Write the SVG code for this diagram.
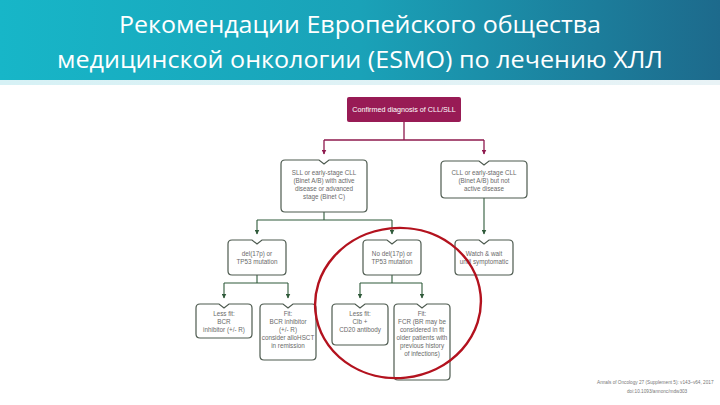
<svg xmlns="http://www.w3.org/2000/svg" width="720" height="405" viewBox="0 0 720 405">
<defs>
<linearGradient id="hdr" x1="0" y1="0" x2="1" y2="0">
<stop offset="0" stop-color="#17b6c8"/>
<stop offset="0.5" stop-color="#1aa2b8"/>
<stop offset="1" stop-color="#1d6a8c"/>
</linearGradient>
<linearGradient id="strip" x1="0" y1="0" x2="1" y2="0">
<stop offset="0" stop-color="#d6f1f5"/>
<stop offset="1" stop-color="#e9f3f6"/>
</linearGradient>
<marker id="am" viewBox="0 0 10 10" refX="9" refY="5" markerWidth="5" markerHeight="5" orient="auto" markerUnits="userSpaceOnUse">
<path d="M0,0 L10,5 L0,10 Z" fill="#8e1a4e"/>
</marker>
<marker id="ag" viewBox="0 0 10 10" refX="9" refY="5" markerWidth="5" markerHeight="5" orient="auto" markerUnits="userSpaceOnUse">
<path d="M0,0 L10,5 L0,10 Z" fill="#2f5a3a"/>
</marker>
</defs>
<style>
.title{font-family:"Open Sans","Liberation Sans",sans-serif;font-size:24px;fill:#ffffff;text-anchor:middle}
.box{fill:#ffffff;stroke:#4d5a4f;stroke-width:1.2}
.bt{font-family:"Liberation Sans","DejaVu Sans",sans-serif;font-size:6.3px;fill:#6a6a6a;text-anchor:middle}
.cm{fill:none;stroke:#8e1a4e;stroke-width:1.3}
.cg{fill:none;stroke:#2f5a3a;stroke-width:1.1}
.foot{font-family:"Liberation Sans",sans-serif;font-size:4.7px;fill:#777777}
</style>
<rect x="0" y="0" width="720" height="405" fill="#ffffff"/>
<rect x="0" y="0" width="720" height="80" fill="url(#hdr)"/>
<rect x="0" y="80" width="720" height="5" fill="url(#strip)"/>
<text class="title" x="360" y="33" textLength="482" lengthAdjust="spacingAndGlyphs">Рекомендации Европейского общества</text>
<text class="title" x="360" y="68" textLength="606" lengthAdjust="spacingAndGlyphs">медицинской онкологии (ESMO) по лечению ХЛЛ</text>

<g id="connectors">
<path class="cm" d="M404,122 V140 M324,140 H484"/>
<path class="cm" d="M324,140 V154" marker-end="url(#am)"/>
<path class="cm" d="M484,140 V154" marker-end="url(#am)"/>
<path class="cg" d="M324,212 V220 M257,220 H392"/>
<path class="cg" d="M257,220 V234" marker-end="url(#ag)"/>
<path class="cg" d="M392,220 V234" marker-end="url(#ag)"/>
<path class="cg" d="M484,198 V234" marker-end="url(#ag)"/>
<path class="cg" d="M257,275 V283 M224,283 H288"/>
<path class="cg" d="M224,283 V298" marker-end="url(#ag)"/>
<path class="cg" d="M288,283 V298" marker-end="url(#ag)"/>
<path class="cg" d="M392,275 V283 M360,283 H422"/>
<path class="cg" d="M360,283 V298" marker-end="url(#ag)"/>
<path class="cg" d="M422,283 V298" marker-end="url(#ag)"/>
</g>

<g id="n-confirmed">
<rect x="347" y="97" width="114" height="25" rx="2" fill="#981b55"/>
<text x="404" y="112" font-family="Liberation Sans, sans-serif" font-size="7.2" fill="#ffffff" text-anchor="middle">Confirmed diagnosis of CLL/SLL</text>
</g>

<g id="n-active">
<path class="box" d="M285,160 H319 L324,164 L329,160 H363 Q367,160 367,164 V208 Q367,212 363,212 H285 Q281,212 281,208 V164 Q281,160 285,160 Z"/>
<text class="bt" x="324" y="175">SLL or early-stage CLL</text>
<text class="bt" x="324" y="183">(Binet A/B) with active</text>
<text class="bt" x="324" y="191">disease or advanced</text>
<text class="bt" x="324" y="199">stage (Binet C)</text>
</g>

<g id="n-inactive">
<path class="box" d="M445,161 H479 L484,165 L489,161 H523 Q527,161 527,165 V194 Q527,198 523,198 H445 Q441,198 441,194 V165 Q441,161 445,161 Z"/>
<text class="bt" x="484" y="175">CLL or early-stage CLL</text>
<text class="bt" x="484" y="183">(Binet A/B) but not</text>
<text class="bt" x="484" y="191">active disease</text>
</g>

<g id="n-del17p">
<path class="box" d="M232,240 H252 L257,244 L262,240 H282 Q286,240 286,244 V271 Q286,275 282,275 H232 Q228,275 228,271 V244 Q228,240 232,240 Z"/>
<text class="bt" x="257" y="256">del(17p) or</text>
<text class="bt" x="257" y="264">TP53 mutation</text>
</g>

<g id="n-nodel">
<path class="box" d="M367,240 H387 L392,244 L397,240 H417 Q421,240 421,244 V271 Q421,275 417,275 H367 Q363,275 363,271 V244 Q363,240 367,240 Z"/>
<text class="bt" x="392" y="256">No del(17p) or</text>
<text class="bt" x="392" y="264">TP53 mutation</text>
</g>

<g id="n-watch">
<path class="box" d="M459,240 H479 L484,244 L489,240 H509 Q513,240 513,244 V271 Q513,275 509,275 H459 Q455,275 455,271 V244 Q455,240 459,240 Z"/>
<text class="bt" x="484" y="256">Watch &amp; wait</text>
<text class="bt" x="484" y="264">until symptomatic</text>
</g>

<g id="n-lessfit1">
<path class="box" d="M200,304 H219 L224,308 L229,304 H248 Q252,304 252,308 V334 Q252,338 248,338 H200 Q196,338 196,334 V308 Q196,304 200,304 Z"/>
<text class="bt" x="224" y="316">Less fit:</text>
<text class="bt" x="224" y="324">BCR</text>
<text class="bt" x="224" y="332">inhibitor (+/- R)</text>
</g>

<g id="n-fit1">
<path class="box" d="M264,304 H283 L288,308 L293,304 H312 Q316,304 316,308 V356 Q316,360 312,360 H264 Q260,360 260,356 V308 Q260,304 264,304 Z"/>
<text class="bt" x="288" y="316">Fit:</text>
<text class="bt" x="288" y="324">BCR inhibitor</text>
<text class="bt" x="288" y="332">(+/- R)</text>
<text class="bt" x="288" y="340">consider alloHSCT</text>
<text class="bt" x="288" y="348">in remission</text>
</g>

<g id="n-lessfit2">
<path class="box" d="M336,304 H355 L360,308 L365,304 H384 Q388,304 388,308 V341 Q388,345 384,345 H336 Q332,345 332,341 V308 Q332,304 336,304 Z"/>
<text class="bt" x="360" y="316">Less fit:</text>
<text class="bt" x="360" y="324">Clb +</text>
<text class="bt" x="360" y="332">CD20 antibody</text>
</g>

<g id="n-fit2">
<path class="box" d="M398,304 H417 L422,308 L427,304 H446 Q450,304 450,308 V376 Q450,380 446,380 H398 Q394,380 394,376 V308 Q394,304 398,304 Z"/>
<text class="bt" x="422" y="316">Fit:</text>
<text class="bt" x="422" y="324">FCR (BR may be</text>
<text class="bt" x="422" y="332">considered in fit</text>
<text class="bt" x="422" y="340">older patients with</text>
<text class="bt" x="422" y="348">previous history</text>
<text class="bt" x="422" y="356">of infections)</text>
</g>

<ellipse cx="398" cy="303" rx="83" ry="75" fill="none" stroke="#b3121e" stroke-width="2.4" transform="rotate(-6 398 303)"/>

<text class="foot" x="597" y="384">Annals of Oncology 27 (Supplement 5): v143–v64, 2017</text>
<text class="foot" x="627" y="393">doi:10.1093/annonc/mdw303</text>
</svg>
